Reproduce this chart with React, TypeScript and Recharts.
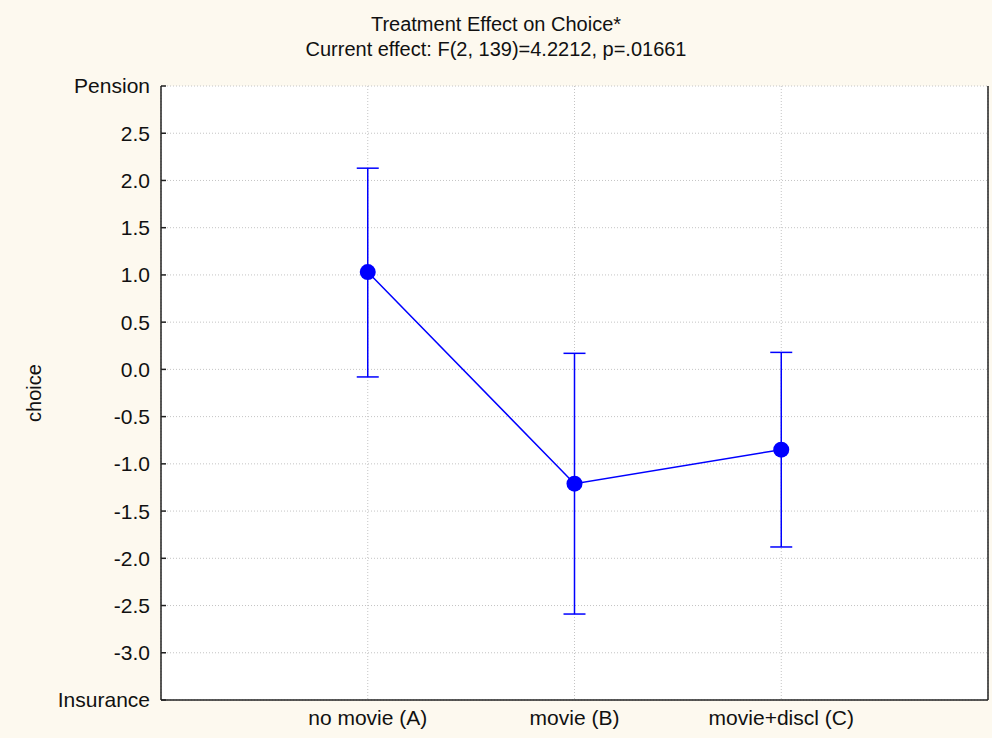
import React from 'react';
import { ComposedChart, Line, XAxis, YAxis, CartesianGrid, ErrorBar } from 'recharts';

const categories = ['no movie (A)', 'movie (B)', 'movie+discl (C)'];
const categoryPositions = [1, 2, 3];
const means = [1.03, -1.21, -0.85];
const lowerBounds = [-0.08, -2.59, -1.88];
const upperBounds = [2.13, 0.17, 0.18];
const yTicks = [-3.5, -3, -2.5, -2, -1.5, -1, -0.5, 0, 0.5, 1, 1.5, 2, 2.5, 3];
const titleLines = ['Treatment Effect on Choice*', 'Current effect: F(2, 139)=4.2212, p=.01661'];
const yAxisTitle = 'choice';
const topLabel = 'Pension';
const bottomLabel = 'Insurance';

const data = categories.map((c, i) => ({
  x: categoryPositions[i],
  name: c,
  mean: means[i],
  err: [means[i] - lowerBounds[i], upperBounds[i] - means[i]],
}));

const FONT = '"Liberation Sans", Arial, sans-serif';
const BG = '#fdf9ef';
const BLUE = '#0000ff';
const AXIS = '#222222';

const fmtY = (v: number) => {
  if (v === 3) return topLabel;
  if (v === -3.5) return bottomLabel;
  return v.toFixed(1);
};
const fmtX = (v: number) => {
  const i = categoryPositions.indexOf(v);
  return i >= 0 ? categories[i] : '';
};

export default function App() {
  return (
    <div style={{ position: 'absolute', left: 0, top: 0, width: 992, height: 738, background: BG, fontFamily: FONT }}>
      <div style={{ position: 'absolute', left: 0, top: 12, width: 992, textAlign: 'center', fontSize: 20, lineHeight: '25px', color: '#111' }}>
        {titleLines.map((t) => (
          <div key={t}>{t}</div>
        ))}
      </div>
      <div
        style={{
          position: 'absolute',
          left: 34,
          top: 393,
          transform: 'translate(-50%, -50%) rotate(-90deg)',
          fontSize: 20,
          color: '#111',
          whiteSpace: 'nowrap',
        }}
      >
        {yAxisTitle}
      </div>
      <ComposedChart width={992} height={738} data={data} margin={{ top: 86, right: 0, bottom: 0, left: 0 }}>
        <CartesianGrid fill="#ffffff" stroke="#c4c4c4" strokeDasharray="1 2" />
        <XAxis
          dataKey="x"
          type="number"
          domain={[0, 4]}
          ticks={categoryPositions}
          tickFormatter={fmtX}
          height={38}
          tickSize={-5}
          tickMargin={15}
          axisLine={{ stroke: AXIS, strokeWidth: 1.5 }}
          tickLine={false}
          tick={{ fill: '#111', fontSize: 21, fontFamily: FONT }}
          allowDataOverflow
        />
        <XAxis
          xAxisId="top"
          orientation="top"
          type="number"
          domain={[0, 4]}
          ticks={categoryPositions}
          height={0}
          tick={false}
          tickLine={false}
          axisLine={{ stroke: AXIS, strokeWidth: 1.5 }}
        />
        <YAxis
          type="number"
          domain={[-3.5, 3]}
          ticks={yTicks}
          interval={0}
          tickFormatter={fmtY}
          width={161}
          tickSize={-5}
          tickMargin={16}
          axisLine={{ stroke: AXIS, strokeWidth: 1.5 }}
          tickLine={{ stroke: AXIS, strokeWidth: 1.5 }}
          tick={{ fill: '#111', fontSize: 21, fontFamily: FONT }}
          allowDataOverflow
        />
        <YAxis
          yAxisId="right"
          orientation="right"
          type="number"
          domain={[-3.5, 3]}
          ticks={yTicks}
          interval={0}
          width={4}
          tickSize={-5}
          tick={false}
          axisLine={{ stroke: AXIS, strokeWidth: 1.5 }}
          tickLine={{ stroke: AXIS, strokeWidth: 1.5 }}
        />
        <Line
          dataKey="mean"
          type="linear"
          stroke={BLUE}
          strokeWidth={1.5}
          dot={{ r: 8, fill: BLUE, stroke: 'none' }}
          activeDot={false}
          isAnimationActive={false}
        >
          <ErrorBar dataKey="err" direction="y" width={11} stroke={BLUE} strokeWidth={1.5} isAnimationActive={false} />
        </Line>
      </ComposedChart>
    </div>
  );
}
